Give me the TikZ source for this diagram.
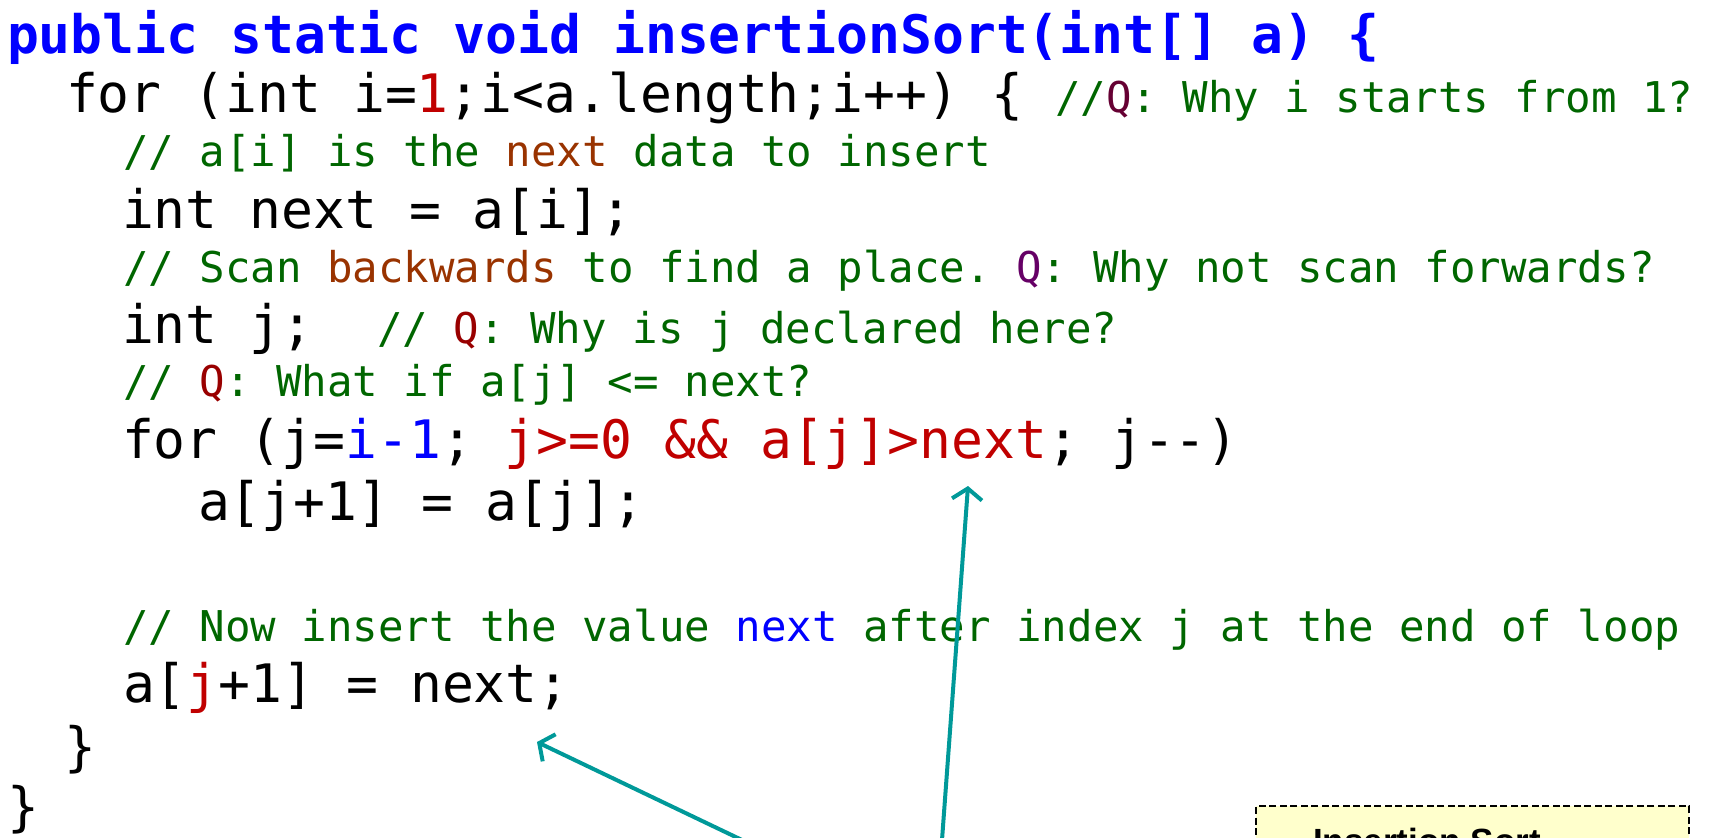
\documentclass[tikz,border=0pt]{standalone}
\usepackage{fontspec}
\setmonofont{DejaVu Sans Mono}
\setsansfont{Liberation Sans}
\usetikzlibrary{arrows.meta}

\definecolor{kwblue}{RGB}{0,0,255}
\definecolor{litred}{RGB}{192,0,0}
\definecolor{cmtgreen}{RGB}{0,102,0}
\definecolor{hlbrown}{RGB}{153,51,0}
\definecolor{qplum}{RGB}{102,0,51}
\definecolor{qpurple}{RGB}{102,0,102}
\definecolor{qred}{RGB}{153,0,0}
\definecolor{pointer}{RGB}{0,153,153}
\definecolor{notefill}{RGB}{255,255,204}

% code is set in two sizes: statements and comments
\newcommand\codebig{\ttfamily\fontsize{53}{60}\selectfont}
\newcommand\codesmall{\ttfamily\fontsize{42.4}{50}\selectfont}

\tikzset{
  codeline/.style={anchor=base west, inner sep=0pt, outer sep=0pt, font=\codebig},
  cmtline/.style={anchor=base west, inner sep=0pt, outer sep=0pt, font=\codesmall, text=cmtgreen},
  pointerline/.style={draw=pointer, line width=4pt, line cap=round, line join=round,
    -{Straight Barb[length=11pt, width=30pt, line width=4pt]}},
  notebox/.style={draw=black, dash pattern=on 7pt off 3.5pt, line width=2pt, fill=notefill}
}

\begin{document}
\begin{tikzpicture}[x=1pt, y=-1pt]
\useasboundingbox (0,0) rectangle (1717,838);
\clip (0,0) rectangle (1717,838);

% method header
\node[codeline, text=kwblue, font=\codebig\bfseries] (l1) at (7,53)
  {public static void insertionSort(int[] a) \{};

% outer loop
\node[codeline] (l2) at (66,112)
  {for (int i=\textcolor{litred}{1};i<a.length;i++) \{ {\codesmall\textcolor{cmtgreen}{//}\textcolor{qplum}{Q}\textcolor{cmtgreen}{: Why i starts from 1?}}};

\node[cmtline] (l3) at (123,166)
  {// a[i] is the \textcolor{hlbrown}{next} data to insert};

\node[codeline] (l4) at (122,228) {int next = a[i];};

\node[cmtline] (l5) at (123,282)
  {// Scan \textcolor{hlbrown}{backwards} to find a place. \textcolor{qpurple}{Q}: Why not scan forwards?};

\node[codeline] (l6) at (122,343)
  {int j;\ \ {\codesmall\textcolor{cmtgreen}{// }\textcolor{qred}{Q}\textcolor{cmtgreen}{: Why is j declared here?}}};

\node[cmtline] (l7) at (123,396)
  {// \textcolor{qred}{Q}: What if a[j] <= next?};

% inner loop
\node[codeline] (l8) at (122,458)
  {for (j=\textcolor{kwblue}{i-1}; \textcolor{litred}{j>=0 \&\& a[j]>next}; j-\kern0pt-)};

\node[codeline] (l9) at (198,520) {a[j+1] = a[j];};

\node[cmtline] (l11) at (123,641)
  {// Now insert the value \textcolor{kwblue}{next} after index j at the end of loop};

\node[codeline] (l12) at (123,702)
  {a[\textcolor{litred}{j}+1] = next;};

\node[codeline] (l13) at (64,765) {\}};
\node[codeline] (l14) at (8,825) {\}};

% note box at the lower right
\node[notebox, anchor=north west, minimum width=433pt, minimum height=120pt,
      inner sep=0pt] (note) at (1255,805) {};
\node[anchor=base west, inner sep=0pt, font=\sffamily\bfseries\fontsize{35}{40}\selectfont]
  (notetext) at (1313,853) {Insertion Sort};

% pointers into the code
\coordinate (stmtnext) at (537,742);
\coordinate (condnext) at (968,486);
\coordinate (srcA) at (742,840);
\coordinate (srcB) at (942,840);
\draw[pointerline] (srcA) -- (stmtnext);
\draw[pointerline] (srcB) -- (condnext);
\end{tikzpicture}
\end{document}
